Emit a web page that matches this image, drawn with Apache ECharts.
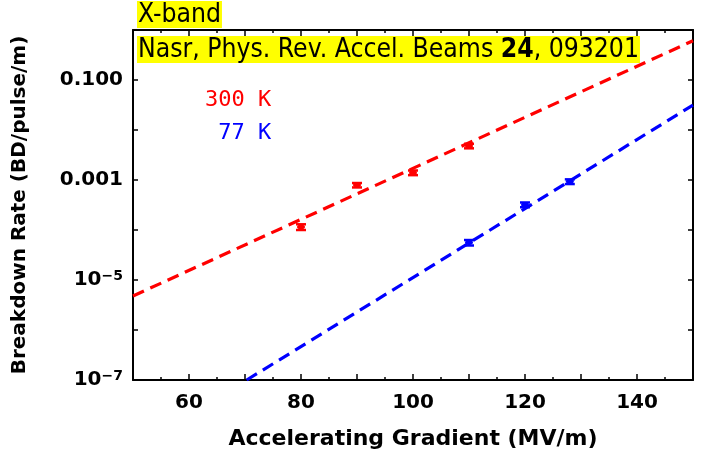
<!DOCTYPE html>
<html><head><meta charset="utf-8">
<script src="https://cdn.jsdelivr.net/npm/echarts@6/dist/echarts.min.js"></script>
<style>html,body{margin:0;padding:0;background:#fff}#c{width:705px;height:460px}</style>
</head><body><div id="c"></div>
<script>
// 300 K data
const gradient300 = [80, 90, 100, 110];
const rate300 = [1.15e-4, 7.9e-4, 1.4e-3, 4.8e-3];
const err300 = [0.15e-4, 0.8e-4, 0.15e-3, 0.5e-3];
// 77 K data
const gradient77 = [110, 120, 128];
const rate77 = [5.6e-5, 3.2e-4, 9.3e-4];
const err77 = [0.7e-5, 0.35e-4, 1.0e-4];
// fits
const fit300X = [50, 150];
const fit300Y = [4.8e-6, 0.61];
const fit77X = [70.3, 150];
const fit77Y = [1e-7, 0.0316];
// tick labels
const xTickLabels = [60, 80, 100, 120, 140];
const yTickExps = [-1, -3, -5, -7];
const yTickTexts = ['0.100', '0.001', '10{s|\u22125}', '10{s|\u22127}'];

const chart = echarts.init(document.getElementById('c'));
const FONT = 'DejaVu Sans';

function errRender(color) {
  return function (params, api) {
    const x = api.value(0), y = api.value(1), lo = api.value(2), hi = api.value(3);
    const pLo = api.coord([x, lo]), pHi = api.coord([x, hi]), c = api.coord([x, y]);
    const w = 5;
    const st = { stroke: color, lineWidth: 2.5 };
    return { type: 'group', children: [
      { type: 'line', shape: { x1: pLo[0], y1: pLo[1], x2: pHi[0], y2: pHi[1] }, style: st },
      { type: 'line', shape: { x1: pLo[0] - w, y1: pLo[1], x2: pLo[0] + w, y2: pLo[1] }, style: st },
      { type: 'line', shape: { x1: pHi[0] - w, y1: pHi[1], x2: pHi[0] + w, y2: pHi[1] }, style: st },
      { type: 'ellipse', shape: { cx: c[0], cy: c[1], rx: 4, ry: 2.5 }, style: { fill: color } }
    ]};
  };
}

const errData300 = gradient300.map((g, i) => [g, rate300[i], rate300[i] - err300[i], rate300[i] + err300[i]]);
const errData77 = gradient77.map((g, i) => [g, rate77[i], rate77[i] - err77[i], rate77[i] + err77[i]]);

const axisLine = { show: true, lineStyle: { color: '#000', width: 2 } };
const labelStyle = { fontFamily: FONT, fontWeight: 'bold', fontSize: 20, color: '#000' };

function yFmt(v) {
  const e = Math.round(Math.log10(v));
  const i = yTickExps.indexOf(e);
  return i >= 0 ? yTickTexts[i] : '';
}

chart.setOption({
  animation: false,
  grid: { left: 133, right: 12, top: 30, bottom: 80 },
  xAxis: [
    { type: 'value', position: 'bottom', min: 50, max: 150, interval: 10,
      axisLine, splitLine: { show: false },
      axisTick: { inside: true, length: 6, lineStyle: { color: '#000', width: 1.5 } },
      minorTick: { show: true, splitNumber: 2, length: 3, lineStyle: { color: '#000', width: 1.5 } },
      axisLabel: Object.assign({ margin: 13, formatter: v => xTickLabels.includes(v) ? String(v) : '' }, labelStyle),
      name: 'Accelerating Gradient (MV/m)', nameLocation: 'middle', nameGap: 48,
      nameTextStyle: { fontFamily: FONT, fontWeight: 'bold', fontSize: 22, color: '#000' } },
    { type: 'value', position: 'top', min: 50, max: 150, interval: 10,
      axisLine, splitLine: { show: false },
      axisTick: { inside: true, length: 6, lineStyle: { color: '#000', width: 1.5 } },
      minorTick: { show: true, splitNumber: 2, length: 3, lineStyle: { color: '#000', width: 1.5 } },
      axisLabel: { show: false } }
  ],
  yAxis: [
    { type: 'log', logBase: 10, min: 1e-7, max: 1, interval: 1, position: 'left',
      axisLine, splitLine: { show: false },
      axisTick: { inside: true, length: 5, lineStyle: { color: '#000', width: 1.5 } },
      axisLabel: Object.assign({ margin: 10, formatter: yFmt,
        rich: { s: { fontFamily: FONT, fontWeight: 'bold', fontSize: 14, color: '#000', verticalAlign: 'top', padding: [0, 0, 8, 0] } } }, labelStyle),
      name: 'Breakdown Rate (BD/pulse/m)', nameLocation: 'middle', nameGap: 103,
      nameTextStyle: { fontFamily: FONT, fontWeight: 'bold', fontSize: 20, color: '#000' } },
    { type: 'log', logBase: 10, min: 1e-7, max: 1, interval: 1, position: 'right',
      axisLine, splitLine: { show: false },
      axisTick: { inside: true, length: 5, lineStyle: { color: '#000', width: 1.5 } },
      axisLabel: { show: false } }
  ],
  series: [
    { type: 'line', name: 'fit300', data: fit300X.map((x, i) => [x, fit300Y[i]]), symbol: 'none',
      lineStyle: { color: '#ff0000', width: 3.2, type: [12, 7] }, z: 2 },
    { type: 'line', name: 'fit77', data: fit77X.map((x, i) => [x, fit77Y[i]]), symbol: 'none',
      lineStyle: { color: '#0000ff', width: 3.2, type: [12, 7] }, z: 2 },
    { type: 'custom', name: '300 K', data: errData300, renderItem: errRender('#ff0000'), z: 3 },
    { type: 'custom', name: '77 K', data: errData77, renderItem: errRender('#0000ff'), z: 3 }
  ],
  graphic: [
    { type: 'text', left: 137, top: 1, z: 10, style: { text: 'X-band', fontFamily: 'DejaVu Sans Condensed', fontSize: 26.3,
      fill: '#000', backgroundColor: '#ffff00', padding: [1, 1, 0, 1] } },
    { type: 'text', left: 137, top: 36, z: 10, style: { text: 'Nasr, Phys. Rev. Accel. Beams {b|24}, 093201',
      fontFamily: 'DejaVu Sans Condensed', fontSize: 26.3, fill: '#000', backgroundColor: '#ffff00', padding: [1, 1, 0, 1],
      rich: { b: { fontFamily: 'DejaVu Sans Condensed', fontWeight: 'bold', fontSize: 26.3, fill: '#000' } } } },
    { type: 'text', left: 205, top: 89, z: 10, style: { text: '300 K', fontFamily: 'DejaVu Sans Mono', fontSize: 22, fill: '#ff0000' } },
    { type: 'text', left: 205, top: 122, z: 10, style: { text: ' 77 K', fontFamily: 'DejaVu Sans Mono', fontSize: 22, fill: '#0000ff' } }
  ]
});
</script></body></html>
